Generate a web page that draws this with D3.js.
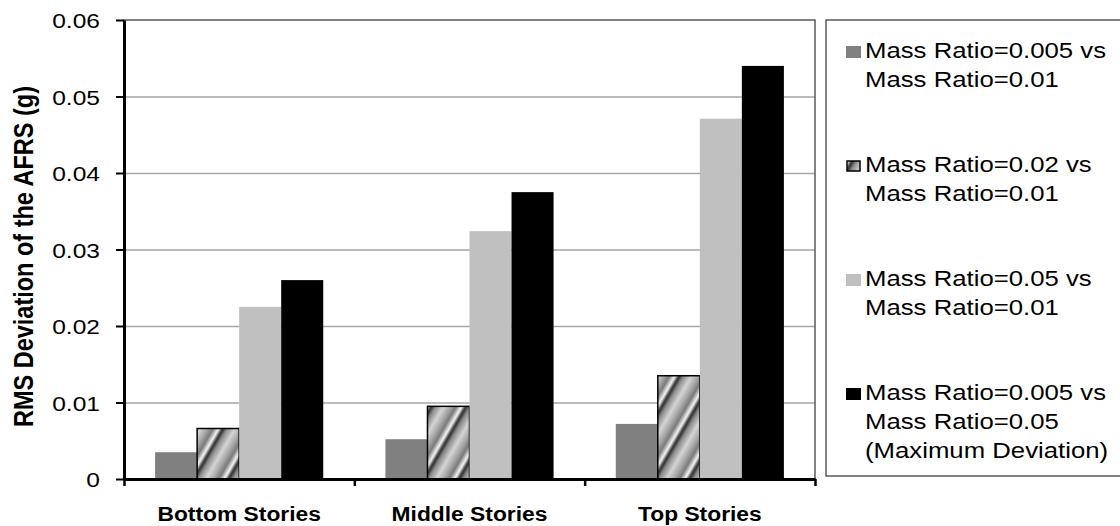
<!DOCTYPE html>
<html>
<head>
<meta charset="utf-8">
<script src="https://cdn.jsdelivr.net/npm/d3@7"></script>
<style>
  body { margin: 0; background: #fff; }
  svg { display: block; font-family: 'Liberation Sans', Arial, sans-serif; }
</style>
</head>
<body>
<svg id="chart" width="1120" height="526"></svg>
<script>
// data
var categories = ['Bottom Stories', 'Middle Stories', 'Top Stories'];
var seriesKeys = ['r005_r01', 'r02_r01', 'r05_r01', 'r005_r05'];
var legendLabels = [
  ['Mass Ratio=0.005 vs', 'Mass Ratio=0.01'],
  ['Mass Ratio=0.02 vs', 'Mass Ratio=0.01'],
  ['Mass Ratio=0.05 vs', 'Mass Ratio=0.01'],
  ['Mass Ratio=0.005 vs', 'Mass Ratio=0.05', '(Maximum Deviation)']
];
var r005_r01 = [0.0035, 0.0052, 0.0072];
var r02_r01 = [0.0066, 0.0095, 0.0135];
var r05_r01 = [0.0225, 0.0324, 0.0471];
var r005_r05 = [0.026, 0.0375, 0.054];
var yTicks = [0, 0.01, 0.02, 0.03, 0.04, 0.05, 0.06];
var yTickLabels = ['0', '0.01', '0.02', '0.03', '0.04', '0.05', '0.06'];
var yTitle = 'RMS Deviation of the AFRS (g)';

var seriesValues = [r005_r01, r02_r01, r05_r01, r005_r05];
var fills = ['#808080', 'url(#stripes)', '#c0c0c0', '#000000'];

// the original picture is stretched sideways a bit
var sx = 1.17;

var svg = d3.select('#chart');
var plotLeft = 124, plotRight = 815, plotTop = 20, plotBottom = 479;

///////////////////////////////////////////////////////////////
// defs: diagonal gradient stripes
///////////////////////////////////////////////////////////////
var defs = svg.append('defs');
var grad = defs.append('linearGradient')
  .attr('id', 'stripeGrad')
  .attr('x1', 0).attr('x2', 1).attr('y1', 0).attr('y2', 0);
[[0, '#2a2a2a'], [0.12, '#8a8a8a'], [0.35, '#d4d4d4'], [0.55, '#a8a8a8'], [0.72, '#7a7a7a'], [0.88, '#f6f6f6'], [1, '#2a2a2a']]
  .forEach(s => grad.append('stop').attr('offset', s[0]).attr('stop-color', s[1]));
var pat = defs.append('pattern')
  .attr('id', 'stripes')
  .attr('patternUnits', 'userSpaceOnUse')
  .attr('width', 30).attr('height', 30)
  .attr('patternTransform', 'rotate(30)');
pat.append('rect')
  .attr('width', 30).attr('height', 30)
  .attr('fill', 'url(#stripeGrad)');

///////////////////////////////////////////////////////////////
// scales
///////////////////////////////////////////////////////////////
var x0 = d3.scaleBand()
  .domain(categories)
  .range([plotLeft, plotRight])
  .padding(0);

var x1 = d3.scaleBand()
  .domain(seriesKeys)
  .range([0, x0.bandwidth()])
  .paddingInner(0)
  .paddingOuter(0.74);

var y = d3.scaleLinear()
  .domain([0, 0.06])
  .range([plotBottom, plotTop]);

///////////////////////////////////////////////////////////////
// gridlines + plot border
///////////////////////////////////////////////////////////////
var grid = svg.append('g')
  .attr('transform', 'translate(' + plotLeft + ',0)')
  .call(d3.axisLeft(y).tickValues(yTicks.slice(1, -1)).tickSize(-(plotRight - plotLeft)).tickFormat(''));
grid.select('.domain').remove();
grid.selectAll('line')
  .attr('stroke', '#a6a6a6')
  .attr('stroke-width', 1.5);

svg.append('rect')
  .attr('x', plotLeft).attr('y', y(0.06))
  .attr('width', plotRight - plotLeft).attr('height', y(0) - y(0.06))
  .attr('fill', 'none')
  .attr('stroke', '#595959')
  .attr('stroke-width', 1.5);

///////////////////////////////////////////////////////////////
// bars
///////////////////////////////////////////////////////////////
var groups = svg.selectAll('.group')
  .data(categories)
  .enter()
  .append('g')
  .attr('class', 'group')
  .attr('transform', d => 'translate(' + x0(d) + ',0)');

groups.selectAll('rect')
  .data((d, i) => seriesKeys.map((k, j) => ({ key: k, j: j, value: seriesValues[j][i] })))
  .enter()
  .append('rect')
  .attr('x', d => x1(d.key))
  .attr('y', d => y(d.value))
  .attr('width', x1.bandwidth())
  .attr('height', d => y(0) - y(d.value))
  .attr('fill', d => fills[d.j])
  .attr('stroke', d => d.j === 1 ? '#000' : 'none')
  .attr('stroke-width', 1.5);

///////////////////////////////////////////////////////////////
// axes
///////////////////////////////////////////////////////////////
var yAxis = svg.append('g')
  .attr('transform', 'translate(' + plotLeft + ',0)')
  .call(d3.axisLeft(y).tickValues(yTicks).tickSize(8).tickSizeOuter(0)
    .tickFormat((d, i) => yTickLabels[i]));
yAxis.select('.domain').attr('stroke', '#000').attr('stroke-width', 3);
yAxis.selectAll('line').attr('stroke', '#000').attr('stroke-width', 2);
yAxis.selectAll('text')
  .attr('x', 0)
  .attr('dy', '0.36em')
  .attr('transform', 'translate(-24,0) scale(' + sx + ',1)')
  .attr('font-size', 21)
  .attr('font-family', 'Liberation Sans, Arial, sans-serif')
  .attr('fill', '#000');

// category boundary ticks
var xb = d3.scaleLinear().domain([0, categories.length]).range([plotLeft, plotRight]);
var xAxis = svg.append('g')
  .attr('transform', 'translate(0,' + plotBottom + ')')
  .call(d3.axisBottom(xb).ticks(categories.length).tickSize(7).tickSizeOuter(0).tickFormat(''));
xAxis.select('.domain').attr('stroke', '#000').attr('stroke-width', 3);
xAxis.selectAll('line').attr('stroke', '#000').attr('stroke-width', 2.5);

svg.selectAll('.cat')
  .data(categories)
  .enter()
  .append('text')
  .attr('class', 'cat')
  .attr('text-anchor', 'middle')
  .attr('font-weight', 'bold')
  .attr('font-size', 19.5)
  .attr('transform', d => 'translate(' + (x0(d) + x0.bandwidth() / 2) + ',521) scale(' + sx + ',1)')
  .text(d => d);

svg.append('text')
  .attr('text-anchor', 'middle')
  .attr('font-weight', 'bold')
  .attr('font-size', 23.5)
  .attr('transform', 'translate(33,' + ((plotTop + plotBottom) / 2 + 7) + ') scale(' + sx + ',1) rotate(-90)')
  .text(yTitle);

///////////////////////////////////////////////////////////////
// legend
///////////////////////////////////////////////////////////////
svg.append('rect')
  .attr('x', 826).attr('y', 20)
  .attr('width', 320).attr('height', 456)
  .attr('fill', 'none')
  .attr('stroke', '#595959')
  .attr('stroke-width', 1.5);

var legend = svg.selectAll('.legend')
  .data(legendLabels)
  .enter()
  .append('g')
  .attr('class', 'legend')
  .attr('transform', (d, i) => 'translate(846,' + (58 + i * 114) + ')');

legend.append('rect')
  .attr('x', (d, i) => i === 1 ? 1 : 0)
  .attr('y', (d, i) => i === 1 ? -11 : -12)
  .attr('width', (d, i) => i === 1 ? 13 : 15)
  .attr('height', (d, i) => i === 1 ? 10 : 12)
  .attr('fill', (d, i) => fills[i])
  .attr('stroke', (d, i) => i === 1 ? '#000' : 'none')
  .attr('stroke-width', 1.5);

legend.selectAll('text')
  .data(d => d)
  .enter()
  .append('text')
  .attr('font-size', 22)
  .attr('transform', (d, j) => 'translate(19,' + (j * 29) + ') scale(' + sx + ',1)')
  .text(d => d);
</script>
</body>
</html>
